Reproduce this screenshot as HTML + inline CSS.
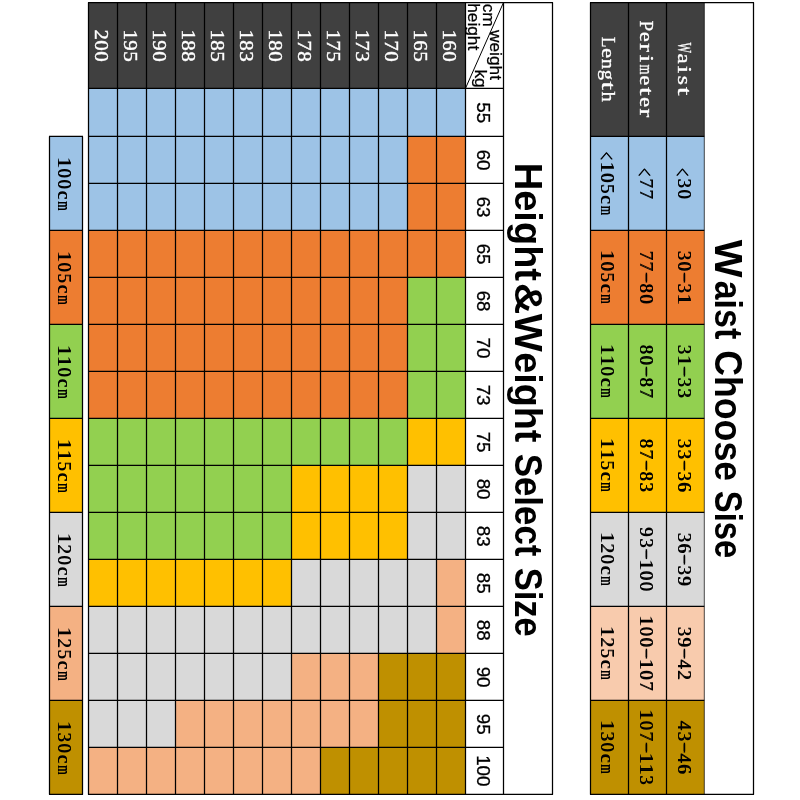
<!DOCTYPE html>
<html lang="en"><head><meta charset="utf-8"><title>Size chart</title>
<style>
html,body{margin:0;padding:0;background:#fff;}
body{width:800px;height:800px;overflow:hidden;}
svg{display:block;}
text{white-space:pre;}
</style></head><body>
<svg width="800" height="800" viewBox="0 0 800 800">
<rect x="0" y="0" width="800" height="800" fill="#ffffff"/>
<rect x="88.50" y="2.50" width="377.00" height="85.80" fill="#404040"/>
<rect x="88.50" y="88.30" width="377.00" height="48.10" fill="#9DC3E6"/>
<rect x="88.50" y="136.40" width="319.00" height="47.00" fill="#9DC3E6"/>
<rect x="407.50" y="136.40" width="58.00" height="47.00" fill="#ED7D31"/>
<rect x="88.50" y="183.40" width="319.00" height="47.00" fill="#9DC3E6"/>
<rect x="407.50" y="183.40" width="58.00" height="47.00" fill="#ED7D31"/>
<rect x="88.50" y="230.40" width="377.00" height="47.00" fill="#ED7D31"/>
<rect x="88.50" y="277.40" width="319.00" height="47.00" fill="#ED7D31"/>
<rect x="407.50" y="277.40" width="58.00" height="47.00" fill="#92D050"/>
<rect x="88.50" y="324.40" width="319.00" height="47.00" fill="#ED7D31"/>
<rect x="407.50" y="324.40" width="58.00" height="47.00" fill="#92D050"/>
<rect x="88.50" y="371.40" width="319.00" height="47.00" fill="#ED7D31"/>
<rect x="407.50" y="371.40" width="58.00" height="47.00" fill="#92D050"/>
<rect x="88.50" y="418.40" width="319.00" height="47.00" fill="#92D050"/>
<rect x="407.50" y="418.40" width="58.00" height="47.00" fill="#FFC000"/>
<rect x="88.50" y="465.40" width="203.00" height="47.00" fill="#92D050"/>
<rect x="291.50" y="465.40" width="116.00" height="47.00" fill="#FFC000"/>
<rect x="407.50" y="465.40" width="58.00" height="47.00" fill="#D9D9D9"/>
<rect x="88.50" y="512.40" width="203.00" height="47.00" fill="#92D050"/>
<rect x="291.50" y="512.40" width="116.00" height="47.00" fill="#FFC000"/>
<rect x="407.50" y="512.40" width="58.00" height="47.00" fill="#D9D9D9"/>
<rect x="88.50" y="559.40" width="203.00" height="47.00" fill="#FFC000"/>
<rect x="291.50" y="559.40" width="145.00" height="47.00" fill="#D9D9D9"/>
<rect x="436.50" y="559.40" width="29.00" height="47.00" fill="#F4B183"/>
<rect x="88.50" y="606.40" width="348.00" height="47.00" fill="#D9D9D9"/>
<rect x="436.50" y="606.40" width="29.00" height="47.00" fill="#F4B183"/>
<rect x="88.50" y="653.40" width="203.00" height="47.00" fill="#D9D9D9"/>
<rect x="291.50" y="653.40" width="87.00" height="47.00" fill="#F4B183"/>
<rect x="378.50" y="653.40" width="87.00" height="47.00" fill="#BF9000"/>
<rect x="88.50" y="700.40" width="87.00" height="47.00" fill="#D9D9D9"/>
<rect x="175.50" y="700.40" width="203.00" height="47.00" fill="#F4B183"/>
<rect x="378.50" y="700.40" width="87.00" height="47.00" fill="#BF9000"/>
<rect x="88.50" y="747.40" width="232.00" height="47.00" fill="#F4B183"/>
<rect x="320.50" y="747.40" width="145.00" height="47.00" fill="#BF9000"/>
<rect x="49.50" y="136.40" width="33.00" height="94.00" fill="#9DC3E6"/>
<rect x="49.50" y="230.40" width="33.00" height="94.00" fill="#ED7D31"/>
<rect x="49.50" y="324.40" width="33.00" height="94.00" fill="#92D050"/>
<rect x="49.50" y="418.40" width="33.00" height="94.00" fill="#FFC000"/>
<rect x="49.50" y="512.40" width="33.00" height="94.00" fill="#D9D9D9"/>
<rect x="49.50" y="606.40" width="33.00" height="94.00" fill="#F4B183"/>
<rect x="49.50" y="700.40" width="33.00" height="94.00" fill="#BF9000"/>
<rect x="590.50" y="2.50" width="113.80" height="133.90" fill="#404040"/>
<rect x="590.50" y="136.40" width="113.80" height="94.00" fill="#9DC3E6"/>
<rect x="590.50" y="230.40" width="113.80" height="94.00" fill="#ED7D31"/>
<rect x="590.50" y="324.40" width="113.80" height="94.00" fill="#92D050"/>
<rect x="590.50" y="418.40" width="113.80" height="94.00" fill="#FFC000"/>
<rect x="590.50" y="512.40" width="113.80" height="94.00" fill="#D9D9D9"/>
<rect x="590.50" y="606.40" width="113.80" height="94.00" fill="#F8CBAD"/>
<rect x="590.50" y="700.40" width="113.80" height="94.00" fill="#BF9000"/>
<line x1="88.50" y1="2.50" x2="88.50" y2="794.40" stroke="#000" stroke-width="1.25"/>
<line x1="117.50" y1="2.50" x2="117.50" y2="794.40" stroke="#000" stroke-width="1.25"/>
<line x1="146.50" y1="2.50" x2="146.50" y2="794.40" stroke="#000" stroke-width="1.25"/>
<line x1="175.50" y1="2.50" x2="175.50" y2="794.40" stroke="#000" stroke-width="1.25"/>
<line x1="204.50" y1="2.50" x2="204.50" y2="794.40" stroke="#000" stroke-width="1.25"/>
<line x1="233.50" y1="2.50" x2="233.50" y2="794.40" stroke="#000" stroke-width="1.25"/>
<line x1="262.50" y1="2.50" x2="262.50" y2="794.40" stroke="#000" stroke-width="1.25"/>
<line x1="291.50" y1="2.50" x2="291.50" y2="794.40" stroke="#000" stroke-width="1.25"/>
<line x1="320.50" y1="2.50" x2="320.50" y2="794.40" stroke="#000" stroke-width="1.25"/>
<line x1="349.50" y1="2.50" x2="349.50" y2="794.40" stroke="#000" stroke-width="1.25"/>
<line x1="378.50" y1="2.50" x2="378.50" y2="794.40" stroke="#000" stroke-width="1.25"/>
<line x1="407.50" y1="2.50" x2="407.50" y2="794.40" stroke="#000" stroke-width="1.25"/>
<line x1="436.50" y1="2.50" x2="436.50" y2="794.40" stroke="#000" stroke-width="1.25"/>
<line x1="465.50" y1="2.50" x2="465.50" y2="794.40" stroke="#000" stroke-width="1.25"/>
<line x1="503.50" y1="2.50" x2="503.50" y2="794.40" stroke="#000" stroke-width="1.25"/>
<line x1="552.50" y1="2.50" x2="552.50" y2="794.40" stroke="#000" stroke-width="1.25"/>
<line x1="88.00" y1="2.50" x2="553.00" y2="2.50" stroke="#000" stroke-width="1.25"/>
<line x1="88.00" y1="794.40" x2="553.00" y2="794.40" stroke="#000" stroke-width="1.25"/>
<line x1="88.50" y1="88.30" x2="503.50" y2="88.30" stroke="#000" stroke-width="1.25"/>
<line x1="88.50" y1="136.40" x2="503.50" y2="136.40" stroke="#000" stroke-width="1.25"/>
<line x1="88.50" y1="183.40" x2="503.50" y2="183.40" stroke="#000" stroke-width="1.25"/>
<line x1="88.50" y1="230.40" x2="503.50" y2="230.40" stroke="#000" stroke-width="1.25"/>
<line x1="88.50" y1="277.40" x2="503.50" y2="277.40" stroke="#000" stroke-width="1.25"/>
<line x1="88.50" y1="324.40" x2="503.50" y2="324.40" stroke="#000" stroke-width="1.25"/>
<line x1="88.50" y1="371.40" x2="503.50" y2="371.40" stroke="#000" stroke-width="1.25"/>
<line x1="88.50" y1="418.40" x2="503.50" y2="418.40" stroke="#000" stroke-width="1.25"/>
<line x1="88.50" y1="465.40" x2="503.50" y2="465.40" stroke="#000" stroke-width="1.25"/>
<line x1="88.50" y1="512.40" x2="503.50" y2="512.40" stroke="#000" stroke-width="1.25"/>
<line x1="88.50" y1="559.40" x2="503.50" y2="559.40" stroke="#000" stroke-width="1.25"/>
<line x1="88.50" y1="606.40" x2="503.50" y2="606.40" stroke="#000" stroke-width="1.25"/>
<line x1="88.50" y1="653.40" x2="503.50" y2="653.40" stroke="#000" stroke-width="1.25"/>
<line x1="88.50" y1="700.40" x2="503.50" y2="700.40" stroke="#000" stroke-width="1.25"/>
<line x1="88.50" y1="747.40" x2="503.50" y2="747.40" stroke="#000" stroke-width="1.25"/>
<line x1="503.50" y1="2.50" x2="465.50" y2="88.30" stroke="#000" stroke-width="1.0"/>
<line x1="49.00" y1="136.40" x2="83.00" y2="136.40" stroke="#000" stroke-width="1.25"/>
<line x1="49.50" y1="230.40" x2="82.50" y2="230.40" stroke="#000" stroke-width="1.25"/>
<line x1="49.50" y1="324.40" x2="82.50" y2="324.40" stroke="#000" stroke-width="1.25"/>
<line x1="49.50" y1="418.40" x2="82.50" y2="418.40" stroke="#000" stroke-width="1.25"/>
<line x1="49.50" y1="512.40" x2="82.50" y2="512.40" stroke="#000" stroke-width="1.25"/>
<line x1="49.50" y1="606.40" x2="82.50" y2="606.40" stroke="#000" stroke-width="1.25"/>
<line x1="49.50" y1="700.40" x2="82.50" y2="700.40" stroke="#000" stroke-width="1.25"/>
<line x1="49.00" y1="794.40" x2="83.00" y2="794.40" stroke="#000" stroke-width="1.25"/>
<line x1="49.50" y1="136.40" x2="49.50" y2="794.40" stroke="#000" stroke-width="1.25"/>
<line x1="82.50" y1="136.40" x2="82.50" y2="794.40" stroke="#000" stroke-width="1.25"/>
<line x1="590.50" y1="2.50" x2="590.50" y2="794.40" stroke="#000" stroke-width="1.25"/>
<line x1="628.50" y1="2.50" x2="628.50" y2="794.40" stroke="#000" stroke-width="1.25"/>
<line x1="666.50" y1="2.50" x2="666.50" y2="794.40" stroke="#000" stroke-width="1.25"/>
<line x1="704.30" y1="2.50" x2="704.30" y2="794.40" stroke="#000" stroke-width="0.7"/>
<line x1="753.50" y1="2.50" x2="753.50" y2="794.40" stroke="#000" stroke-width="1.25"/>
<line x1="590.00" y1="2.50" x2="754.00" y2="2.50" stroke="#000" stroke-width="1.25"/>
<line x1="590.00" y1="794.40" x2="754.00" y2="794.40" stroke="#000" stroke-width="1.25"/>
<line x1="590.50" y1="136.40" x2="704.30" y2="136.40" stroke="#000" stroke-width="1.25"/>
<line x1="590.50" y1="230.40" x2="704.30" y2="230.40" stroke="#000" stroke-width="1.25"/>
<line x1="590.50" y1="324.40" x2="704.30" y2="324.40" stroke="#000" stroke-width="1.25"/>
<line x1="590.50" y1="418.40" x2="704.30" y2="418.40" stroke="#000" stroke-width="1.25"/>
<line x1="590.50" y1="512.40" x2="704.30" y2="512.40" stroke="#000" stroke-width="1.25"/>
<line x1="590.50" y1="606.40" x2="704.30" y2="606.40" stroke="#000" stroke-width="1.25"/>
<line x1="590.50" y1="700.40" x2="704.30" y2="700.40" stroke="#000" stroke-width="1.25"/>
<text aria-label="200" transform="translate(94.70,45.60) rotate(90) scale(1,0.930)" font-family='"Liberation Serif", serif' font-size="21.00" fill="#fff" stroke="#fff" stroke-width="0.45"><tspan x="-16.15" y="0">2</tspan><tspan x="-5.25" y="0">0</tspan><tspan x="5.65" y="0">0</tspan></text>
<text aria-label="195" transform="translate(123.70,45.60) rotate(90) scale(1,0.930)" font-family='"Liberation Serif", serif' font-size="21.00" fill="#fff" stroke="#fff" stroke-width="0.45"><tspan x="-16.15" y="0">1</tspan><tspan x="-5.25" y="0">9</tspan><tspan x="5.65" y="0">5</tspan></text>
<text aria-label="190" transform="translate(152.70,45.60) rotate(90) scale(1,0.930)" font-family='"Liberation Serif", serif' font-size="21.00" fill="#fff" stroke="#fff" stroke-width="0.45"><tspan x="-16.15" y="0">1</tspan><tspan x="-5.25" y="0">9</tspan><tspan x="5.65" y="0">0</tspan></text>
<text aria-label="188" transform="translate(181.70,45.60) rotate(90) scale(1,0.930)" font-family='"Liberation Serif", serif' font-size="21.00" fill="#fff" stroke="#fff" stroke-width="0.45"><tspan x="-16.15" y="0">1</tspan><tspan x="-5.25" y="0">8</tspan><tspan x="5.65" y="0">8</tspan></text>
<text aria-label="185" transform="translate(210.70,45.60) rotate(90) scale(1,0.930)" font-family='"Liberation Serif", serif' font-size="21.00" fill="#fff" stroke="#fff" stroke-width="0.45"><tspan x="-16.15" y="0">1</tspan><tspan x="-5.25" y="0">8</tspan><tspan x="5.65" y="0">5</tspan></text>
<text aria-label="183" transform="translate(239.70,45.60) rotate(90) scale(1,0.930)" font-family='"Liberation Serif", serif' font-size="21.00" fill="#fff" stroke="#fff" stroke-width="0.45"><tspan x="-16.15" y="0">1</tspan><tspan x="-5.25" y="0">8</tspan><tspan x="5.65" y="0">3</tspan></text>
<text aria-label="180" transform="translate(268.70,45.60) rotate(90) scale(1,0.930)" font-family='"Liberation Serif", serif' font-size="21.00" fill="#fff" stroke="#fff" stroke-width="0.45"><tspan x="-16.15" y="0">1</tspan><tspan x="-5.25" y="0">8</tspan><tspan x="5.65" y="0">0</tspan></text>
<text aria-label="178" transform="translate(297.70,45.60) rotate(90) scale(1,0.930)" font-family='"Liberation Serif", serif' font-size="21.00" fill="#fff" stroke="#fff" stroke-width="0.45"><tspan x="-16.15" y="0">1</tspan><tspan x="-5.25" y="0">7</tspan><tspan x="5.65" y="0">8</tspan></text>
<text aria-label="175" transform="translate(326.70,45.60) rotate(90) scale(1,0.930)" font-family='"Liberation Serif", serif' font-size="21.00" fill="#fff" stroke="#fff" stroke-width="0.45"><tspan x="-16.15" y="0">1</tspan><tspan x="-5.25" y="0">7</tspan><tspan x="5.65" y="0">5</tspan></text>
<text aria-label="173" transform="translate(355.70,45.60) rotate(90) scale(1,0.930)" font-family='"Liberation Serif", serif' font-size="21.00" fill="#fff" stroke="#fff" stroke-width="0.45"><tspan x="-16.15" y="0">1</tspan><tspan x="-5.25" y="0">7</tspan><tspan x="5.65" y="0">3</tspan></text>
<text aria-label="170" transform="translate(384.70,45.60) rotate(90) scale(1,0.930)" font-family='"Liberation Serif", serif' font-size="21.00" fill="#fff" stroke="#fff" stroke-width="0.45"><tspan x="-16.15" y="0">1</tspan><tspan x="-5.25" y="0">7</tspan><tspan x="5.65" y="0">0</tspan></text>
<text aria-label="165" transform="translate(413.70,45.60) rotate(90) scale(1,0.930)" font-family='"Liberation Serif", serif' font-size="21.00" fill="#fff" stroke="#fff" stroke-width="0.45"><tspan x="-16.15" y="0">1</tspan><tspan x="-5.25" y="0">6</tspan><tspan x="5.65" y="0">5</tspan></text>
<text aria-label="160" transform="translate(442.70,45.60) rotate(90) scale(1,0.930)" font-family='"Liberation Serif", serif' font-size="21.00" fill="#fff" stroke="#fff" stroke-width="0.45"><tspan x="-16.15" y="0">1</tspan><tspan x="-5.25" y="0">6</tspan><tspan x="5.65" y="0">0</tspan></text>
<text transform="translate(476.99,102.22) rotate(90) scale(0.1880,0.1915)" font-family='"Liberation Sans", sans-serif' font-size="100" fill="#000" stroke="#000" stroke-width="1.6">55</text>
<text transform="translate(476.99,149.63) rotate(90) scale(0.1880,0.1915)" font-family='"Liberation Sans", sans-serif' font-size="100" fill="#000" stroke="#000" stroke-width="1.6">60</text>
<text transform="translate(476.99,196.67) rotate(90) scale(0.1880,0.1915)" font-family='"Liberation Sans", sans-serif' font-size="100" fill="#000" stroke="#000" stroke-width="1.6">63</text>
<text transform="translate(476.99,243.67) rotate(90) scale(0.1880,0.1915)" font-family='"Liberation Sans", sans-serif' font-size="100" fill="#000" stroke="#000" stroke-width="1.6">65</text>
<text transform="translate(476.99,290.67) rotate(90) scale(0.1880,0.1915)" font-family='"Liberation Sans", sans-serif' font-size="100" fill="#000" stroke="#000" stroke-width="1.6">68</text>
<text transform="translate(476.99,337.62) rotate(90) scale(0.1880,0.1915)" font-family='"Liberation Sans", sans-serif' font-size="100" fill="#000" stroke="#000" stroke-width="1.6">70</text>
<text transform="translate(476.99,384.67) rotate(90) scale(0.1880,0.1915)" font-family='"Liberation Sans", sans-serif' font-size="100" fill="#000" stroke="#000" stroke-width="1.6">73</text>
<text transform="translate(476.99,431.67) rotate(90) scale(0.1880,0.1915)" font-family='"Liberation Sans", sans-serif' font-size="100" fill="#000" stroke="#000" stroke-width="1.6">75</text>
<text transform="translate(476.99,478.67) rotate(90) scale(0.1880,0.1915)" font-family='"Liberation Sans", sans-serif' font-size="100" fill="#000" stroke="#000" stroke-width="1.6">80</text>
<text transform="translate(476.99,525.72) rotate(90) scale(0.1880,0.1915)" font-family='"Liberation Sans", sans-serif' font-size="100" fill="#000" stroke="#000" stroke-width="1.6">83</text>
<text transform="translate(476.99,572.72) rotate(90) scale(0.1880,0.1915)" font-family='"Liberation Sans", sans-serif' font-size="100" fill="#000" stroke="#000" stroke-width="1.6">85</text>
<text transform="translate(476.99,619.72) rotate(90) scale(0.1880,0.1915)" font-family='"Liberation Sans", sans-serif' font-size="100" fill="#000" stroke="#000" stroke-width="1.6">88</text>
<text transform="translate(476.99,666.67) rotate(90) scale(0.1880,0.1915)" font-family='"Liberation Sans", sans-serif' font-size="100" fill="#000" stroke="#000" stroke-width="1.6">90</text>
<text transform="translate(476.99,713.72) rotate(90) scale(0.1880,0.1915)" font-family='"Liberation Sans", sans-serif' font-size="100" fill="#000" stroke="#000" stroke-width="1.6">95</text>
<text transform="translate(476.99,755.17) rotate(90) scale(0.1880,0.1915)" font-family='"Liberation Sans", sans-serif' font-size="100" fill="#000" stroke="#000" stroke-width="1.6">100</text>
<text transform="translate(482.60,3.71) rotate(90) scale(1.0000,1.0000)" font-family='"Liberation Sans", sans-serif' font-size="17.30" fill="#000" stroke="#000" stroke-width="0.25">cm</text>
<text transform="translate(489.90,30.00) rotate(90) scale(1.0000,1.0000)" font-family='"Liberation Sans", sans-serif' font-size="17.30" fill="#000" stroke="#000" stroke-width="0.25">weight</text>
<text transform="translate(467.90,3.19) rotate(90) scale(1.0000,1.0000)" font-family='"Liberation Sans", sans-serif' font-size="17.30" fill="#000" stroke="#000" stroke-width="0.25">height</text>
<text transform="translate(474.80,69.48) rotate(90) scale(1.0000,1.0000)" font-family='"Liberation Sans", sans-serif' font-size="17.30" fill="#000" stroke="#000" stroke-width="0.25">kg</text>
<text aria-label="Height&amp;Weight Select Size" transform="translate(515.10,0) rotate(90)" font-family='"Liberation Sans", sans-serif' font-size="39.60" font-weight="bold" fill="#000"><tspan x="162.78" textLength="118.24" lengthAdjust="spacingAndGlyphs">Height</tspan><tspan x="282.77" textLength="31.74" lengthAdjust="spacingAndGlyphs">&amp;</tspan><tspan x="313.75" textLength="38.10" lengthAdjust="spacingAndGlyphs">W</tspan><tspan x="352.24" textLength="90.18" lengthAdjust="spacingAndGlyphs">eight</tspan> <tspan x="453.70" textLength="102.69" lengthAdjust="spacingAndGlyphs">Select</tspan> <tspan x="567.72" textLength="69.03" lengthAdjust="spacingAndGlyphs">Size</tspan></text>
<text aria-label="Waist Choose Sise" transform="translate(715.30,0) rotate(90)" font-family='"Liberation Sans", sans-serif' font-size="39.60" font-weight="bold" fill="#000"><tspan x="239.75" textLength="37.90" lengthAdjust="spacingAndGlyphs">W</tspan><tspan x="280.73" textLength="58.47" lengthAdjust="spacingAndGlyphs">aist</tspan> <tspan x="350.27" textLength="130.80" lengthAdjust="spacingAndGlyphs">Choose</tspan> <tspan x="490.77" textLength="67.45" lengthAdjust="spacingAndGlyphs">Sise</tspan></text>
<text aria-label="100cm" transform="translate(57.50,183.80) rotate(90) scale(1,1.000)" font-family='"Liberation Serif", serif' font-size="18.60" fill="#000" style="text-shadow:0.85px 0 0 #000"><tspan x="-27.38" y="0" textLength="11.16" lengthAdjust="spacingAndGlyphs">1</tspan><tspan x="-15.55" y="0">0</tspan><tspan x="-4.65" y="0">0</tspan><tspan x="6.62" y="0" textLength="8.56" lengthAdjust="spacingAndGlyphs">c</tspan><tspan x="17.15" y="0" textLength="9.30" lengthAdjust="spacingAndGlyphs">m</tspan></text>
<text aria-label="105cm" transform="translate(57.50,277.80) rotate(90) scale(1,1.000)" font-family='"Liberation Serif", serif' font-size="18.60" fill="#000" style="text-shadow:0.85px 0 0 #000"><tspan x="-27.38" y="0" textLength="11.16" lengthAdjust="spacingAndGlyphs">1</tspan><tspan x="-15.55" y="0">0</tspan><tspan x="-4.65" y="0">5</tspan><tspan x="6.62" y="0" textLength="8.56" lengthAdjust="spacingAndGlyphs">c</tspan><tspan x="17.15" y="0" textLength="9.30" lengthAdjust="spacingAndGlyphs">m</tspan></text>
<text aria-label="110cm" transform="translate(57.50,371.80) rotate(90) scale(1,1.000)" font-family='"Liberation Serif", serif' font-size="18.60" fill="#000" style="text-shadow:0.85px 0 0 #000"><tspan x="-27.38" y="0" textLength="11.16" lengthAdjust="spacingAndGlyphs">1</tspan><tspan x="-16.48" y="0" textLength="11.16" lengthAdjust="spacingAndGlyphs">1</tspan><tspan x="-4.65" y="0">0</tspan><tspan x="6.62" y="0" textLength="8.56" lengthAdjust="spacingAndGlyphs">c</tspan><tspan x="17.15" y="0" textLength="9.30" lengthAdjust="spacingAndGlyphs">m</tspan></text>
<text aria-label="115cm" transform="translate(57.50,465.80) rotate(90) scale(1,1.000)" font-family='"Liberation Serif", serif' font-size="18.60" fill="#000" style="text-shadow:0.85px 0 0 #000"><tspan x="-27.38" y="0" textLength="11.16" lengthAdjust="spacingAndGlyphs">1</tspan><tspan x="-16.48" y="0" textLength="11.16" lengthAdjust="spacingAndGlyphs">1</tspan><tspan x="-4.65" y="0">5</tspan><tspan x="6.62" y="0" textLength="8.56" lengthAdjust="spacingAndGlyphs">c</tspan><tspan x="17.15" y="0" textLength="9.30" lengthAdjust="spacingAndGlyphs">m</tspan></text>
<text aria-label="120cm" transform="translate(57.50,559.80) rotate(90) scale(1,1.000)" font-family='"Liberation Serif", serif' font-size="18.60" fill="#000" style="text-shadow:0.85px 0 0 #000"><tspan x="-27.38" y="0" textLength="11.16" lengthAdjust="spacingAndGlyphs">1</tspan><tspan x="-15.55" y="0">2</tspan><tspan x="-4.65" y="0">0</tspan><tspan x="6.62" y="0" textLength="8.56" lengthAdjust="spacingAndGlyphs">c</tspan><tspan x="17.15" y="0" textLength="9.30" lengthAdjust="spacingAndGlyphs">m</tspan></text>
<text aria-label="125cm" transform="translate(57.50,653.80) rotate(90) scale(1,1.000)" font-family='"Liberation Serif", serif' font-size="18.60" fill="#000" style="text-shadow:0.85px 0 0 #000"><tspan x="-27.38" y="0" textLength="11.16" lengthAdjust="spacingAndGlyphs">1</tspan><tspan x="-15.55" y="0">2</tspan><tspan x="-4.65" y="0">5</tspan><tspan x="6.62" y="0" textLength="8.56" lengthAdjust="spacingAndGlyphs">c</tspan><tspan x="17.15" y="0" textLength="9.30" lengthAdjust="spacingAndGlyphs">m</tspan></text>
<text aria-label="130cm" transform="translate(57.50,747.80) rotate(90) scale(1,1.000)" font-family='"Liberation Serif", serif' font-size="18.60" fill="#000" style="text-shadow:0.85px 0 0 #000"><tspan x="-27.38" y="0" textLength="11.16" lengthAdjust="spacingAndGlyphs">1</tspan><tspan x="-15.55" y="0">3</tspan><tspan x="-4.65" y="0">0</tspan><tspan x="6.62" y="0" textLength="8.56" lengthAdjust="spacingAndGlyphs">c</tspan><tspan x="17.15" y="0" textLength="9.30" lengthAdjust="spacingAndGlyphs">m</tspan></text>
<text aria-label="Waist" transform="translate(677.90,69.45) rotate(90) scale(1,0.930)" font-family='"Liberation Serif", serif' font-size="21.00" fill="#fff" stroke="#fff" stroke-width="0.35"><tspan x="-27.05" y="0" textLength="10.50" lengthAdjust="spacingAndGlyphs">W</tspan><tspan x="-15.94" y="0" textLength="10.08" lengthAdjust="spacingAndGlyphs">a</tspan><tspan x="-3.78" y="0" textLength="7.56" lengthAdjust="spacingAndGlyphs">i</tspan><tspan x="6.28" y="0" textLength="9.24" lengthAdjust="spacingAndGlyphs">s</tspan><tspan x="17.60" y="0" textLength="8.40" lengthAdjust="spacingAndGlyphs">t</tspan></text>
<text aria-label="Perimeter" transform="translate(640.00,69.45) rotate(90) scale(1,0.930)" font-family='"Liberation Serif", serif' font-size="21.00" fill="#fff" stroke="#fff" stroke-width="0.35"><tspan x="-48.85" y="0" textLength="10.50" lengthAdjust="spacingAndGlyphs">P</tspan><tspan x="-37.74" y="0" textLength="10.08" lengthAdjust="spacingAndGlyphs">e</tspan><tspan x="-26.21" y="0" textLength="8.82" lengthAdjust="spacingAndGlyphs">r</tspan><tspan x="-14.68" y="0" textLength="7.56" lengthAdjust="spacingAndGlyphs">i</tspan><tspan x="-4.93" y="0" textLength="9.87" lengthAdjust="spacingAndGlyphs">m</tspan><tspan x="5.86" y="0" textLength="10.08" lengthAdjust="spacingAndGlyphs">e</tspan><tspan x="17.60" y="0" textLength="8.40" lengthAdjust="spacingAndGlyphs">t</tspan><tspan x="27.66" y="0" textLength="10.08" lengthAdjust="spacingAndGlyphs">e</tspan><tspan x="39.19" y="0" textLength="8.82" lengthAdjust="spacingAndGlyphs">r</tspan></text>
<text aria-label="Length" transform="translate(602.00,69.45) rotate(90) scale(1,0.930)" font-family='"Liberation Serif", serif' font-size="21.00" fill="#fff" stroke="#fff" stroke-width="0.35"><tspan x="-32.50" y="0" textLength="10.50" lengthAdjust="spacingAndGlyphs">L</tspan><tspan x="-21.39" y="0" textLength="10.08" lengthAdjust="spacingAndGlyphs">e</tspan><tspan x="-10.59" y="0" textLength="10.29" lengthAdjust="spacingAndGlyphs">n</tspan><tspan x="0.31" y="0" textLength="10.29" lengthAdjust="spacingAndGlyphs">g</tspan><tspan x="12.15" y="0" textLength="8.40" lengthAdjust="spacingAndGlyphs">t</tspan><tspan x="22.11" y="0" textLength="10.29" lengthAdjust="spacingAndGlyphs">h</tspan></text>
<text aria-label="&lt;30" transform="translate(677.70,182.90) rotate(90) scale(1,1.000)" font-family='"Liberation Serif", serif' font-size="18.60" fill="#000" style="text-shadow:0.85px 0 0 #000"><tspan x="-15.05" y="3.25" font-size="24.55" textLength="8.31" lengthAdjust="spacingAndGlyphs">&lt;</tspan><tspan x="-4.65" y="0">3</tspan><tspan x="6.25" y="0">0</tspan></text>
<text aria-label="&lt;77" transform="translate(639.50,182.90) rotate(90) scale(1,1.000)" font-family='"Liberation Serif", serif' font-size="18.60" fill="#000" style="text-shadow:0.85px 0 0 #000"><tspan x="-15.05" y="3.25" font-size="24.55" textLength="8.31" lengthAdjust="spacingAndGlyphs">&lt;</tspan><tspan x="-4.65" y="0">7</tspan><tspan x="6.25" y="0">7</tspan></text>
<text aria-label="&lt;105cm" transform="translate(601.40,182.90) rotate(90) scale(1,1.000)" font-family='"Liberation Serif", serif' font-size="18.60" fill="#000" style="text-shadow:0.85px 0 0 #000"><tspan x="-31.40" y="3.25" font-size="24.55" textLength="8.31" lengthAdjust="spacingAndGlyphs">&lt;</tspan><tspan x="-21.93" y="0" textLength="11.16" lengthAdjust="spacingAndGlyphs">1</tspan><tspan x="-10.10" y="0">0</tspan><tspan x="0.80" y="0">5</tspan><tspan x="12.07" y="0" textLength="8.56" lengthAdjust="spacingAndGlyphs">c</tspan><tspan x="22.60" y="0" textLength="9.30" lengthAdjust="spacingAndGlyphs">m</tspan></text>
<text aria-label="30-31" transform="translate(677.70,276.90) rotate(90) scale(1,1.000)" font-family='"Liberation Serif", serif' font-size="18.60" fill="#000" style="text-shadow:0.85px 0 0 #000"><tspan x="-26.45" y="0">3</tspan><tspan x="-15.55" y="0">0</tspan><tspan x="-5.39" y="-2.33" font-weight="normal" textLength="10.79" lengthAdjust="spacingAndGlyphs">-</tspan><tspan x="6.25" y="0">3</tspan><tspan x="16.22" y="0" textLength="11.16" lengthAdjust="spacingAndGlyphs">1</tspan></text>
<text aria-label="77-80" transform="translate(639.50,276.90) rotate(90) scale(1,1.000)" font-family='"Liberation Serif", serif' font-size="18.60" fill="#000" style="text-shadow:0.85px 0 0 #000"><tspan x="-26.45" y="0">7</tspan><tspan x="-15.55" y="0">7</tspan><tspan x="-5.39" y="-2.33" font-weight="normal" textLength="10.79" lengthAdjust="spacingAndGlyphs">-</tspan><tspan x="6.25" y="0">8</tspan><tspan x="17.15" y="0">0</tspan></text>
<text aria-label="105cm" transform="translate(601.40,276.90) rotate(90) scale(1,1.000)" font-family='"Liberation Serif", serif' font-size="18.60" fill="#000" style="text-shadow:0.85px 0 0 #000"><tspan x="-27.38" y="0" textLength="11.16" lengthAdjust="spacingAndGlyphs">1</tspan><tspan x="-15.55" y="0">0</tspan><tspan x="-4.65" y="0">5</tspan><tspan x="6.62" y="0" textLength="8.56" lengthAdjust="spacingAndGlyphs">c</tspan><tspan x="17.15" y="0" textLength="9.30" lengthAdjust="spacingAndGlyphs">m</tspan></text>
<text aria-label="31-33" transform="translate(677.70,370.90) rotate(90) scale(1,1.000)" font-family='"Liberation Serif", serif' font-size="18.60" fill="#000" style="text-shadow:0.85px 0 0 #000"><tspan x="-26.45" y="0">3</tspan><tspan x="-16.48" y="0" textLength="11.16" lengthAdjust="spacingAndGlyphs">1</tspan><tspan x="-5.39" y="-2.33" font-weight="normal" textLength="10.79" lengthAdjust="spacingAndGlyphs">-</tspan><tspan x="6.25" y="0">3</tspan><tspan x="17.15" y="0">3</tspan></text>
<text aria-label="80-87" transform="translate(639.50,370.90) rotate(90) scale(1,1.000)" font-family='"Liberation Serif", serif' font-size="18.60" fill="#000" style="text-shadow:0.85px 0 0 #000"><tspan x="-26.45" y="0">8</tspan><tspan x="-15.55" y="0">0</tspan><tspan x="-5.39" y="-2.33" font-weight="normal" textLength="10.79" lengthAdjust="spacingAndGlyphs">-</tspan><tspan x="6.25" y="0">8</tspan><tspan x="17.15" y="0">7</tspan></text>
<text aria-label="110cm" transform="translate(601.40,370.90) rotate(90) scale(1,1.000)" font-family='"Liberation Serif", serif' font-size="18.60" fill="#000" style="text-shadow:0.85px 0 0 #000"><tspan x="-27.38" y="0" textLength="11.16" lengthAdjust="spacingAndGlyphs">1</tspan><tspan x="-16.48" y="0" textLength="11.16" lengthAdjust="spacingAndGlyphs">1</tspan><tspan x="-4.65" y="0">0</tspan><tspan x="6.62" y="0" textLength="8.56" lengthAdjust="spacingAndGlyphs">c</tspan><tspan x="17.15" y="0" textLength="9.30" lengthAdjust="spacingAndGlyphs">m</tspan></text>
<text aria-label="33-36" transform="translate(677.70,464.90) rotate(90) scale(1,1.000)" font-family='"Liberation Serif", serif' font-size="18.60" fill="#000" style="text-shadow:0.85px 0 0 #000"><tspan x="-26.45" y="0">3</tspan><tspan x="-15.55" y="0">3</tspan><tspan x="-5.39" y="-2.33" font-weight="normal" textLength="10.79" lengthAdjust="spacingAndGlyphs">-</tspan><tspan x="6.25" y="0">3</tspan><tspan x="17.15" y="0">6</tspan></text>
<text aria-label="87-83" transform="translate(639.50,464.90) rotate(90) scale(1,1.000)" font-family='"Liberation Serif", serif' font-size="18.60" fill="#000" style="text-shadow:0.85px 0 0 #000"><tspan x="-26.45" y="0">8</tspan><tspan x="-15.55" y="0">7</tspan><tspan x="-5.39" y="-2.33" font-weight="normal" textLength="10.79" lengthAdjust="spacingAndGlyphs">-</tspan><tspan x="6.25" y="0">8</tspan><tspan x="17.15" y="0">3</tspan></text>
<text aria-label="115cm" transform="translate(601.40,464.90) rotate(90) scale(1,1.000)" font-family='"Liberation Serif", serif' font-size="18.60" fill="#000" style="text-shadow:0.85px 0 0 #000"><tspan x="-27.38" y="0" textLength="11.16" lengthAdjust="spacingAndGlyphs">1</tspan><tspan x="-16.48" y="0" textLength="11.16" lengthAdjust="spacingAndGlyphs">1</tspan><tspan x="-4.65" y="0">5</tspan><tspan x="6.62" y="0" textLength="8.56" lengthAdjust="spacingAndGlyphs">c</tspan><tspan x="17.15" y="0" textLength="9.30" lengthAdjust="spacingAndGlyphs">m</tspan></text>
<text aria-label="36-39" transform="translate(677.70,558.90) rotate(90) scale(1,1.000)" font-family='"Liberation Serif", serif' font-size="18.60" fill="#000" style="text-shadow:0.85px 0 0 #000"><tspan x="-26.45" y="0">3</tspan><tspan x="-15.55" y="0">6</tspan><tspan x="-5.39" y="-2.33" font-weight="normal" textLength="10.79" lengthAdjust="spacingAndGlyphs">-</tspan><tspan x="6.25" y="0">3</tspan><tspan x="17.15" y="0">9</tspan></text>
<text aria-label="93-100" transform="translate(639.50,558.90) rotate(90) scale(1,1.000)" font-family='"Liberation Serif", serif' font-size="18.60" fill="#000" style="text-shadow:0.85px 0 0 #000"><tspan x="-31.90" y="0">9</tspan><tspan x="-21.00" y="0">3</tspan><tspan x="-10.84" y="-2.33" font-weight="normal" textLength="10.79" lengthAdjust="spacingAndGlyphs">-</tspan><tspan x="-0.13" y="0" textLength="11.16" lengthAdjust="spacingAndGlyphs">1</tspan><tspan x="11.70" y="0">0</tspan><tspan x="22.60" y="0">0</tspan></text>
<text aria-label="120cm" transform="translate(601.40,558.90) rotate(90) scale(1,1.000)" font-family='"Liberation Serif", serif' font-size="18.60" fill="#000" style="text-shadow:0.85px 0 0 #000"><tspan x="-27.38" y="0" textLength="11.16" lengthAdjust="spacingAndGlyphs">1</tspan><tspan x="-15.55" y="0">2</tspan><tspan x="-4.65" y="0">0</tspan><tspan x="6.62" y="0" textLength="8.56" lengthAdjust="spacingAndGlyphs">c</tspan><tspan x="17.15" y="0" textLength="9.30" lengthAdjust="spacingAndGlyphs">m</tspan></text>
<text aria-label="39-42" transform="translate(677.70,652.90) rotate(90) scale(1,1.000)" font-family='"Liberation Serif", serif' font-size="18.60" fill="#000" style="text-shadow:0.85px 0 0 #000"><tspan x="-26.45" y="0">3</tspan><tspan x="-15.55" y="0">9</tspan><tspan x="-5.39" y="-2.33" font-weight="normal" textLength="10.79" lengthAdjust="spacingAndGlyphs">-</tspan><tspan x="6.25" y="0">4</tspan><tspan x="17.15" y="0">2</tspan></text>
<text aria-label="100-107" transform="translate(639.50,652.90) rotate(90) scale(1,1.000)" font-family='"Liberation Serif", serif' font-size="18.60" fill="#000" style="text-shadow:0.85px 0 0 #000"><tspan x="-38.28" y="0" textLength="11.16" lengthAdjust="spacingAndGlyphs">1</tspan><tspan x="-26.45" y="0">0</tspan><tspan x="-15.55" y="0">0</tspan><tspan x="-5.39" y="-2.33" font-weight="normal" textLength="10.79" lengthAdjust="spacingAndGlyphs">-</tspan><tspan x="5.32" y="0" textLength="11.16" lengthAdjust="spacingAndGlyphs">1</tspan><tspan x="17.15" y="0">0</tspan><tspan x="28.05" y="0">7</tspan></text>
<text aria-label="125cm" transform="translate(601.40,652.90) rotate(90) scale(1,1.000)" font-family='"Liberation Serif", serif' font-size="18.60" fill="#000" style="text-shadow:0.85px 0 0 #000"><tspan x="-27.38" y="0" textLength="11.16" lengthAdjust="spacingAndGlyphs">1</tspan><tspan x="-15.55" y="0">2</tspan><tspan x="-4.65" y="0">5</tspan><tspan x="6.62" y="0" textLength="8.56" lengthAdjust="spacingAndGlyphs">c</tspan><tspan x="17.15" y="0" textLength="9.30" lengthAdjust="spacingAndGlyphs">m</tspan></text>
<text aria-label="43-46" transform="translate(677.70,746.90) rotate(90) scale(1,1.000)" font-family='"Liberation Serif", serif' font-size="18.60" fill="#000" style="text-shadow:0.85px 0 0 #000"><tspan x="-26.45" y="0">4</tspan><tspan x="-15.55" y="0">3</tspan><tspan x="-5.39" y="-2.33" font-weight="normal" textLength="10.79" lengthAdjust="spacingAndGlyphs">-</tspan><tspan x="6.25" y="0">4</tspan><tspan x="17.15" y="0">6</tspan></text>
<text aria-label="107-113" transform="translate(639.50,746.90) rotate(90) scale(1,1.000)" font-family='"Liberation Serif", serif' font-size="18.60" fill="#000" style="text-shadow:0.85px 0 0 #000"><tspan x="-38.28" y="0" textLength="11.16" lengthAdjust="spacingAndGlyphs">1</tspan><tspan x="-26.45" y="0">0</tspan><tspan x="-15.55" y="0">7</tspan><tspan x="-5.39" y="-2.33" font-weight="normal" textLength="10.79" lengthAdjust="spacingAndGlyphs">-</tspan><tspan x="5.32" y="0" textLength="11.16" lengthAdjust="spacingAndGlyphs">1</tspan><tspan x="16.22" y="0" textLength="11.16" lengthAdjust="spacingAndGlyphs">1</tspan><tspan x="28.05" y="0">3</tspan></text>
<text aria-label="130cm" transform="translate(601.40,746.90) rotate(90) scale(1,1.000)" font-family='"Liberation Serif", serif' font-size="18.60" fill="#000" style="text-shadow:0.85px 0 0 #000"><tspan x="-27.38" y="0" textLength="11.16" lengthAdjust="spacingAndGlyphs">1</tspan><tspan x="-15.55" y="0">3</tspan><tspan x="-4.65" y="0">0</tspan><tspan x="6.62" y="0" textLength="8.56" lengthAdjust="spacingAndGlyphs">c</tspan><tspan x="17.15" y="0" textLength="9.30" lengthAdjust="spacingAndGlyphs">m</tspan></text>
</svg>
</body></html>
